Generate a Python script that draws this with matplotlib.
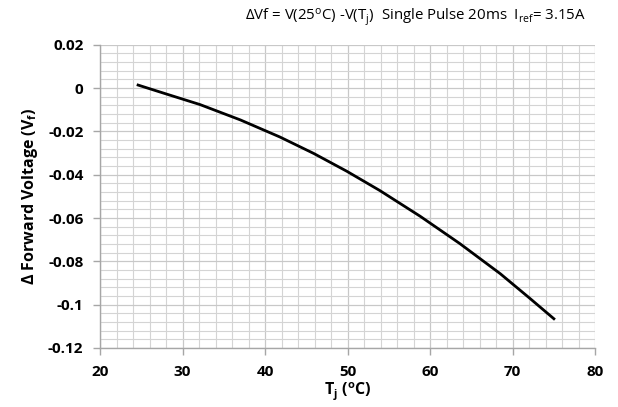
import matplotlib
matplotlib.use("Agg")
import matplotlib.pyplot as plt
from matplotlib.ticker import MultipleLocator, FuncFormatter

plt.rcParams['font.family'] = ['Open Sans', 'DejaVu Sans']
plt.rcParams['font.weight'] = 'bold'
plt.rcParams['mathtext.default'] = 'regular'

tj = [24.6, 28.0, 32.1, 37.0, 41.8, 45.9, 49.9, 53.9, 58.8, 63.6, 68.5, 72.0, 75.0]
dvf = [0.0014, -0.0027, -0.0076, -0.0147, -0.0226, -0.0302, -0.0384, -0.0473,
       -0.0592, -0.0718, -0.0857, -0.0968, -0.1065]

xticks = [20, 30, 40, 50, 60, 70, 80]
yticks = [0.02, 0, -0.02, -0.04, -0.06, -0.08, -0.1, -0.12]

fig = plt.figure(figsize=(6.18, 4.07), dpi=100)
ax = fig.add_axes([0.162, 0.145, 0.801, 0.745])

ax.plot(tj, dvf, color='black', lw=2.0, solid_joinstyle='round', zorder=3)

ax.set_xlim(20, 80)
ax.set_ylim(-0.12, 0.02)
ax.set_xticks(xticks)
ax.set_yticks(yticks)
ax.xaxis.set_minor_locator(MultipleLocator(2))
ax.yaxis.set_minor_locator(MultipleLocator(0.004))
ax.yaxis.set_major_formatter(FuncFormatter(lambda v, p: '0' if abs(v) < 1e-9 else ('%g' % v)))

ax.grid(which='major', color='#c8c8c8', lw=0.9)
ax.grid(which='minor', color='#d4d4d4', lw=0.8)
ax.set_axisbelow(True)

for s in ['top', 'right']:
    ax.spines[s].set_visible(False)
for s in ['left', 'bottom']:
    ax.spines[s].set_color('#a6a6a6')
    ax.spines[s].set_linewidth(1.0)

ax.tick_params(which='major', direction='out', length=5, color='#a6a6a6', width=1.0,
               labelsize=11, pad=7)
ax.tick_params(which='minor', length=0)

ax.set_xlabel('T$_j$ ($^o$C)', fontsize=11.5, fontweight='bold', labelpad=1)
ax.set_ylabel('Δ Forward Voltage (V$_f$)', fontsize=11.5, fontweight='bold', labelpad=6)

fig.text(0.672, 0.957, 'ΔVf = V(25$^o$C) -V(T$_j$)  Single Pulse 20ms  I$_{ref}$= 3.15A',
         ha='center', va='center', fontsize=10.8, fontweight='normal')

fig.savefig('out.png', dpi=100)
